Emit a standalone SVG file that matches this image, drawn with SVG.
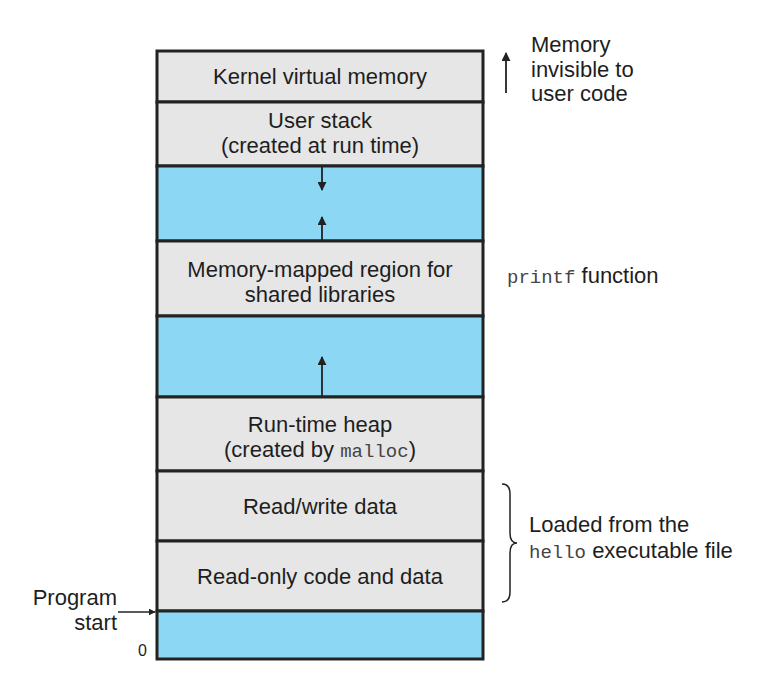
<svg xmlns="http://www.w3.org/2000/svg" width="759" height="683" viewBox="0 0 759 683">
<defs>
<style>
.gray{fill:#e6e6e6;stroke:#222;stroke-width:3}
.blue{fill:#8cd7f3;stroke:#222;stroke-width:3}
.t{font-family:"Liberation Sans",Arial,sans-serif;font-size:22px;fill:#1e1e1e}
.m{font-family:"Liberation Mono","Courier New",monospace;font-size:19px;fill:#444}
.ln{stroke:#222;stroke-width:1.8;fill:none}
</style>
<marker id="ah" viewBox="0 0 10 10" refX="9" refY="5" markerWidth="5" markerHeight="5" orient="auto-start-reverse">
<path d="M0,0 L10,5 L0,10 z" fill="#222"/>
</marker>
</defs>
<rect width="759" height="683" fill="#fff"/>
<g id="kernel"><rect class="gray" x="157" y="51" width="326" height="51"/>
<text class="t" x="320" y="84" text-anchor="middle">Kernel virtual memory</text></g>
<g id="userstack"><rect class="gray" x="157" y="102" width="326" height="64"/>
<text class="t" x="320" y="128" text-anchor="middle">User stack</text>
<text class="t" x="320" y="153" text-anchor="middle">(created at run time)</text></g>
<g id="gap1"><rect class="blue" x="157" y="166" width="326" height="75"/></g>
<g id="mmap"><rect class="gray" x="157" y="241" width="326" height="75"/>
<text class="t" x="320" y="277" text-anchor="middle">Memory-mapped region for</text>
<text class="t" x="320" y="302" text-anchor="middle">shared libraries</text></g>
<g id="gap2"><rect class="blue" x="157" y="316" width="326" height="81"/></g>
<g id="heap"><rect class="gray" x="157" y="397" width="326" height="74"/>
<text class="t" x="320" y="432" text-anchor="middle">Run-time heap</text>
<text class="t" x="320" y="457" text-anchor="middle">(created by <tspan class="m">malloc</tspan>)</text></g>
<g id="rwdata"><rect class="gray" x="157" y="471" width="326" height="70"/>
<text class="t" x="320" y="514" text-anchor="middle">Read/write data</text></g>
<g id="rodata"><rect class="gray" x="157" y="541" width="326" height="70"/>
<text class="t" x="320" y="584" text-anchor="middle">Read-only code and data</text></g>
<g id="bottom"><rect class="blue" x="157" y="611" width="326" height="48"/></g>
<g id="connectors">
<line class="ln" x1="322" y1="166" x2="322" y2="190" marker-end="url(#ah)"/>
<line class="ln" x1="322" y1="241" x2="322" y2="217" marker-end="url(#ah)"/>
<line class="ln" x1="322" y1="397" x2="322" y2="357" marker-end="url(#ah)"/>
<line class="ln" x1="506" y1="93" x2="506" y2="53" marker-end="url(#ah)"/>
<line class="ln" x1="118" y1="612" x2="155" y2="612" marker-end="url(#ah)" style="stroke-width:1.4"/>
<path class="ln" style="stroke-width:1.5" d="M502,484 Q510,484 510,494 L510,533 Q510,543 517,543 Q510,543 510,553 L510,592 Q510,602 502,602"/>
</g>
<g id="labels">
<text class="t" x="531" y="52">Memory</text>
<text class="t" x="531" y="77">invisible to</text>
<text class="t" x="531" y="101">user code</text>
<text class="t" x="507" y="283"><tspan class="m">printf</tspan> function</text>
<text class="t" x="529" y="532">Loaded from the</text>
<text class="t" x="529" y="558"><tspan class="m">hello</tspan> executable file</text>
<text class="t" x="117" y="605" text-anchor="end">Program</text>
<text class="t" x="117" y="630" text-anchor="end">start</text>
<text class="t" x="147" y="656" text-anchor="end" style="font-size:16px">0</text>
</g>
</svg>
